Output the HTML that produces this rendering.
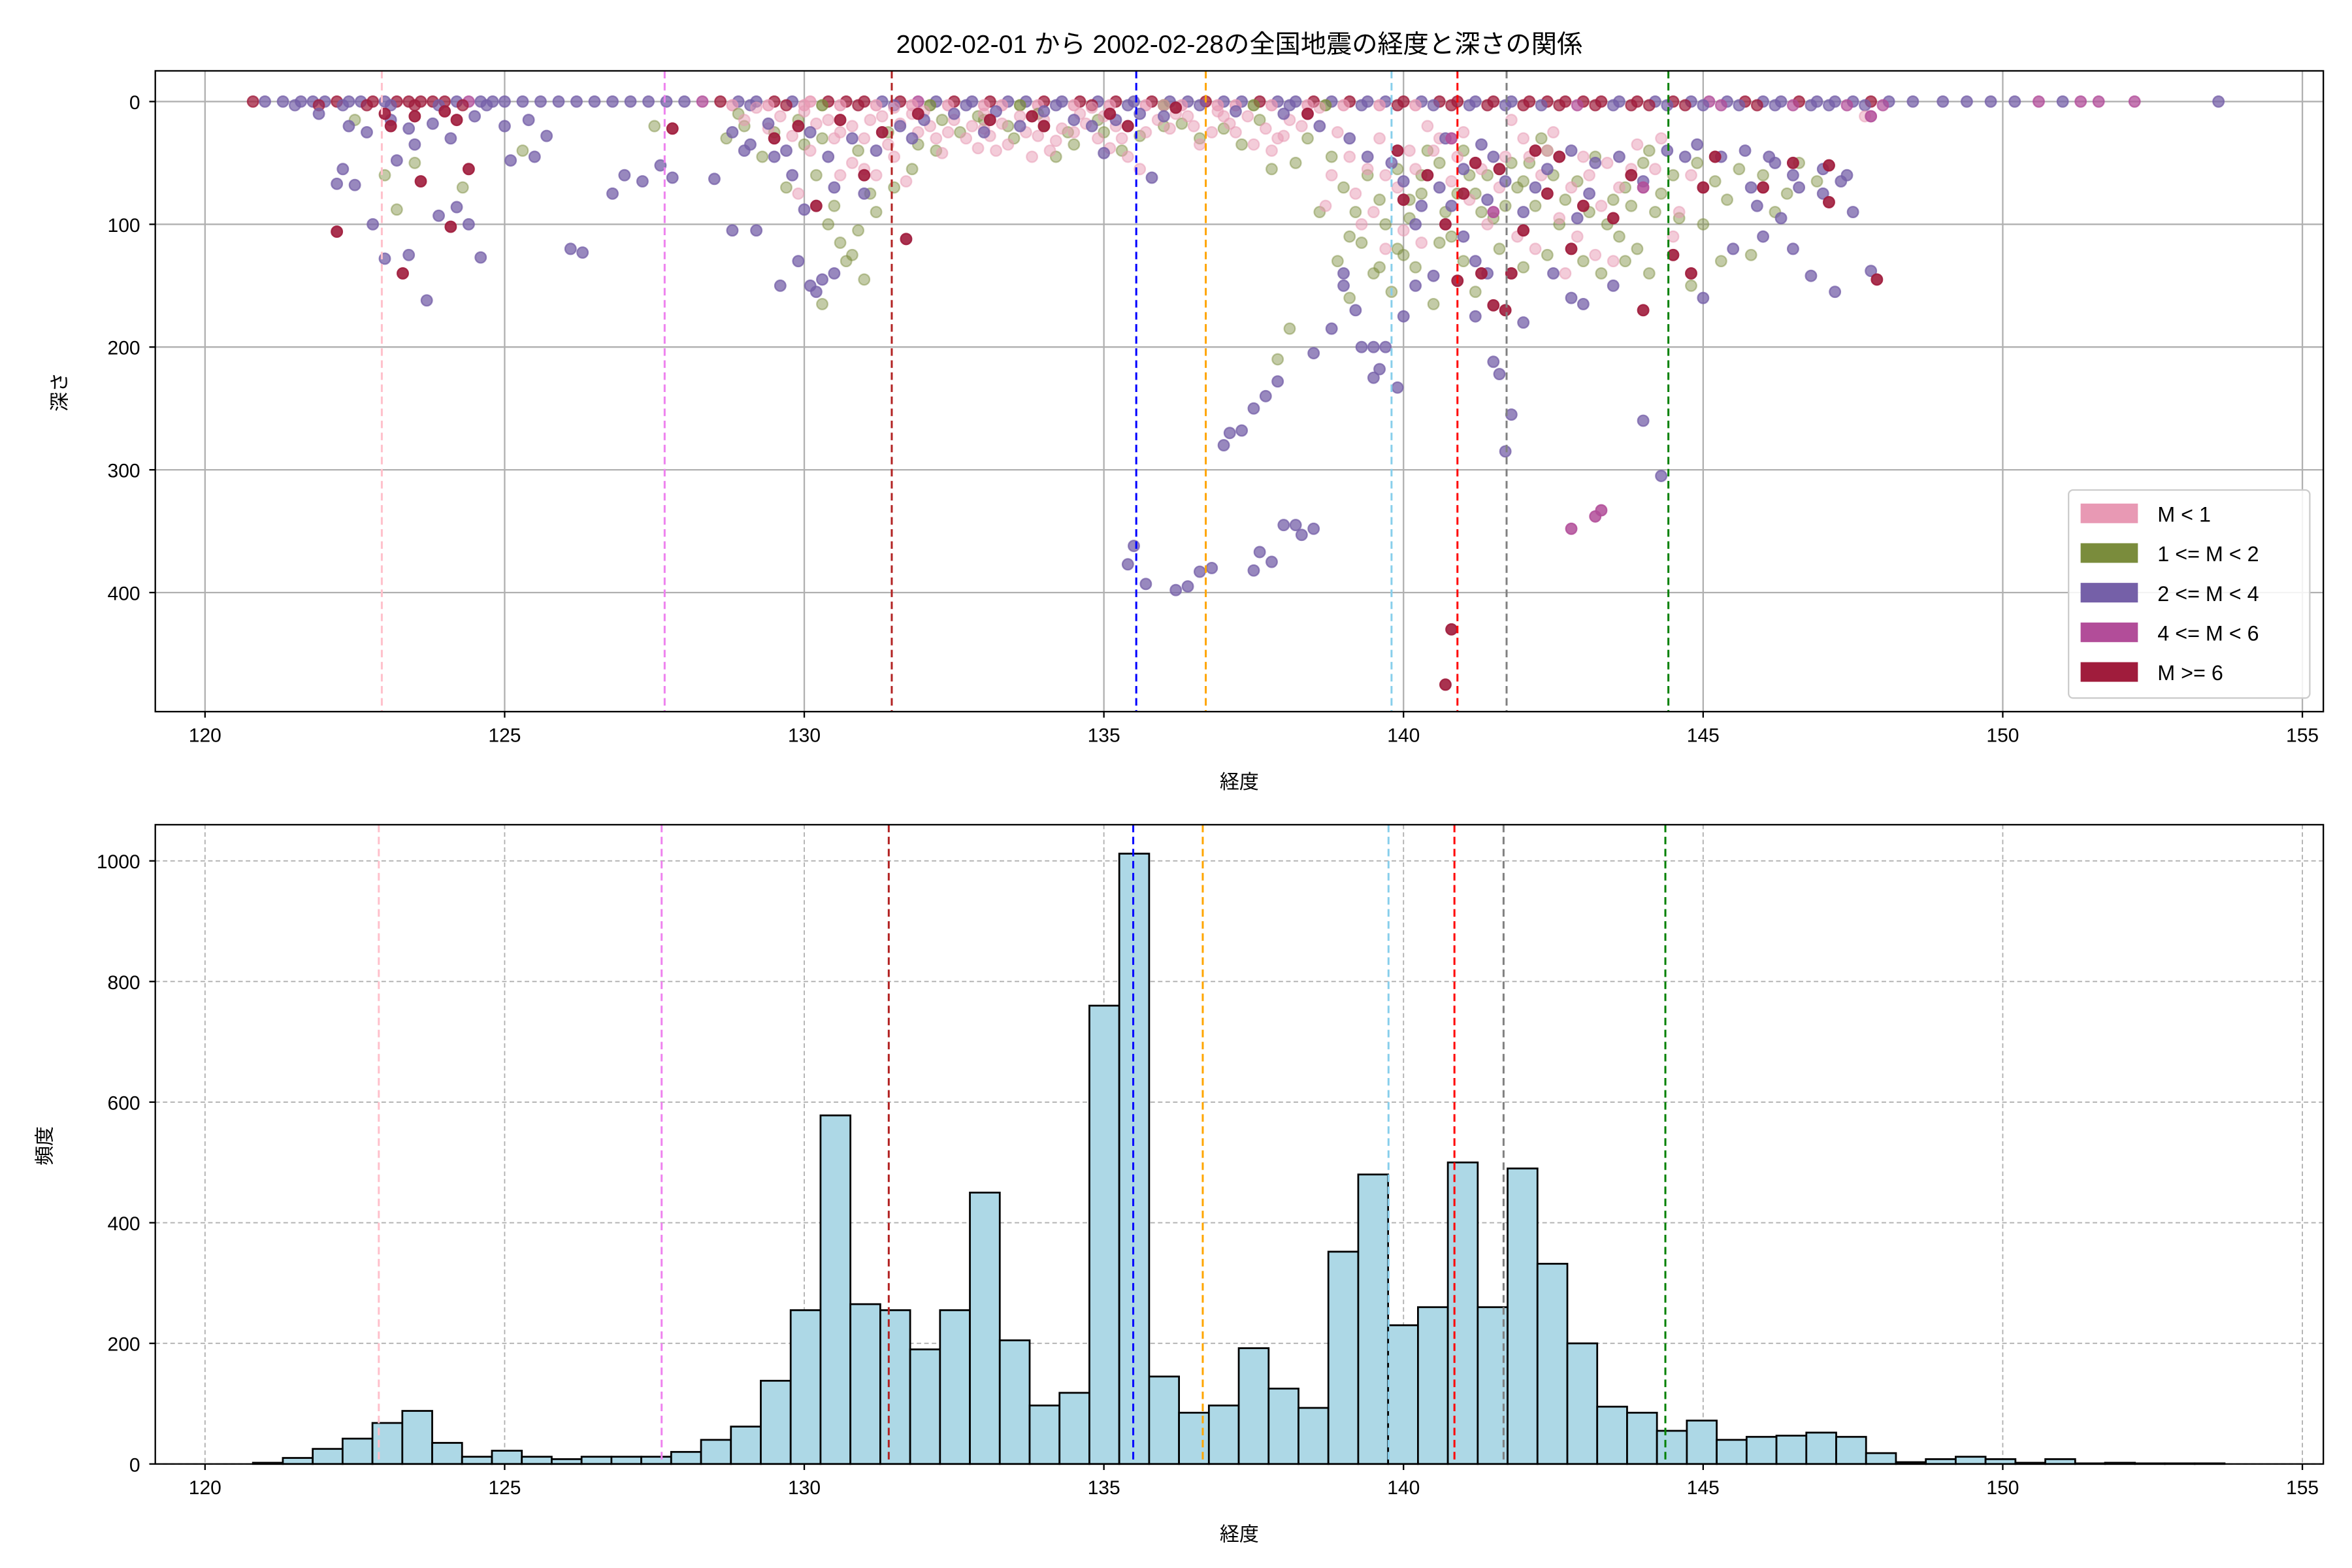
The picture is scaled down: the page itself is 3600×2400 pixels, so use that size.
<!DOCTYPE html>
<html><head><meta charset="utf-8">
<style>
html,body{margin:0;padding:0;background:#fff;}
svg{display:block;font-family:"Liberation Sans","Noto Sans CJK JP",sans-serif;}
</style></head>
<body>
<svg id="chart" xmlns="http://www.w3.org/2000/svg" width="3600" height="2400" viewBox="0 0 1560 1040">
<rect x="0" y="0" width="1560" height="1040" fill="#fff"/>
<text x="822" y="35" font-size="17" text-anchor="middle" fill="#000">2002-02-01 から 2002-02-28の全国地震の経度と深さの関係</text>
<g id="topPanel"></g>
<g id="bottomPanel"></g>
</svg>
<script>
// ---------- data ----------
const xTicks = [120,125,130,135,140,145,150,155];
const depthTicks = [0,100,200,300,400];
const freqTicks = [0,200,400,600,800,1000];
const refLines = [122.95,127.67,131.46,135.54,136.70,139.80,140.90,141.72,144.42];
const refColors = ["pink","violet","#b22222","blue","orange","skyblue","red","gray","green"];
const binStart = 120.8;
const binWidth = 0.4985;
const counts = [2,10,25,42,68,88,35,12,22,12,8,12,12,12,20,40,62,138,255,578,265,255,190,255,450,205,97,118,760,1012,145,85,97,192,125,93,352,480,230,260,500,260,490,332,200,95,85,55,72,40,45,47,52,45,18,3,8,12,8,2,8,1,2,1,1,1];
const classLabels = ["M < 1","1 <= M < 2","2 <= M < 4","4 <= M < 6","M >= 6"];
const classColors = ["#e899b4","#7a8c3c","#7560a8","#b24d99","#a01c3c"];
const pinkPts = [[129.2,5],[129.6,12],[130.0,8],[130.4,15],[130.8,20],[131.0,30],[131.3,12],[131.6,18],[131.9,25],[132.2,30],[132.5,15],[132.8,20],[133.1,28],[133.4,35],[133.7,25],[134.0,15],[134.3,22],[134.6,10],[134.9,30],[135.2,20],[135.4,45],[135.6,55],[135.9,15],[136.2,10],[136.5,20],[136.9,8],[137.2,25],[137.5,35],[137.8,40],[138.1,15],[138.4,10],[138.8,60],[139.2,75],[139.5,90],[139.9,70],[140.2,55],[140.5,40],[140.8,65],[141.1,80],[141.4,100],[141.7,45],[142.0,30],[142.3,60],[142.6,95],[142.9,110],[143.3,85],[143.6,70],[143.9,35],[144.2,55],[144.5,110],[133.0,10],[132.0,8],[131.5,5],[130.5,30],[134.8,5],[136.0,3],[137.0,12],[138.6,5],[139.6,30],[140.4,20],[141.0,25],[141.8,15],[142.5,25],[143.0,45],[130.8,50],[131.2,60],[131.7,65],[129.9,75],[138.7,85],[142.2,120],[143.2,125],[144.6,90],[147.7,12],[139.3,100],[140.0,105],
[129.0,15],[129.4,22],[129.8,28],[130.2,18],[130.6,25],[131.1,15],[131.4,35],[131.8,10],[132.1,20],[132.4,25],[132.7,30],[133.0,22],[133.3,18],[133.6,12],[133.9,28],[134.2,32],[134.5,25],[134.7,18],[135.0,12],[135.3,30],[135.7,25],[136.1,22],[136.4,12],[136.8,25],[137.1,18],[137.4,12],[137.7,22],[138.0,28],[138.3,20],[138.9,25],[139.1,45],[139.4,55],[139.7,60],[140.1,40],[140.6,30],[140.9,45],[141.3,55],[141.6,70],[142.1,45],[142.4,40],[142.8,70],[143.1,60],[143.4,50],[143.8,55],[144.3,30],[144.8,60],[133.2,40],[132.9,38],[134.1,40],[136.6,35],[137.9,30],[135.1,38],[130.1,40],[131.5,45],[132.3,42],[133.8,45],[131.0,55],[130.6,60],[142.7,140],[143.5,130],[141.9,110],[139.7,120],[140.3,115]];
const olivePts = [[122.5,15],[123.0,60],[123.2,88],[123.5,50],[124.3,70],[125.3,40],[127.5,20],[128.7,30],[129.0,20],[129.3,45],[129.7,70],[130.0,35],[130.2,60],[130.4,100],[130.6,115],[130.8,125],[131.0,145],[130.3,165],[130.7,130],[131.2,90],[131.5,70],[131.8,55],[132.2,40],[132.6,25],[133.0,15],[133.5,30],[134.0,20],[134.5,35],[135.0,25],[135.3,40],[136.0,20],[136.6,30],[137.3,35],[137.8,55],[138.2,50],[138.6,90],[138.9,130],[139.1,160],[139.3,115],[139.5,140],[139.7,100],[139.9,120],[140.1,80],[140.3,60],[140.6,50],[140.9,75],[141.1,60],[141.3,90],[141.6,120],[141.9,70],[142.1,50],[142.4,40],[142.7,80],[143.0,130],[143.3,140],[143.6,110],[143.9,120],[144.2,90],[144.5,60],[144.8,150],[145.0,100],[145.4,80],[145.8,125],[146.2,90],[146.6,50],[138.1,185],[137.9,210],[139.8,155],[140.2,135],[141.2,155],[142.0,135],[143.5,80],[144.0,50],[140.5,165],[134.2,45],
[128.9,10],[129.5,25],[129.9,15],[130.3,30],[130.9,40],[131.4,25],[131.9,35],[132.3,15],[132.9,12],[133.4,20],[133.9,10],[134.4,25],[134.9,15],[135.6,28],[136.3,18],[137.0,22],[137.6,15],[138.4,30],[138.8,45],[139.0,70],[139.2,90],[139.4,60],[139.6,80],[139.9,55],[140.1,95],[140.3,75],[140.4,40],[140.7,90],[140.8,110],[141.0,40],[141.2,75],[141.4,60],[141.5,95],[141.7,85],[141.8,50],[142.0,65],[142.2,85],[142.3,30],[142.5,60],[142.6,100],[142.9,65],[143.1,90],[143.2,45],[143.4,100],[143.7,70],[143.8,85],[144.1,40],[144.3,75],[144.6,95],[144.9,50],[145.2,65],[145.6,55],[146.0,60],[146.4,75],[146.9,65],[139.1,110],[139.6,135],[140.0,125],[140.6,115],[141.0,130],[142.4,125],[143.7,130],[144.1,140],[145.3,130],[130.5,85],[131.1,75],[130.9,105]];
const purplePts = [[122.3,55],[122.2,67],[122.5,68],[122.8,100],[123.0,128],[123.4,125],[123.7,162],[123.9,93],[124.2,86],[124.4,100],[124.6,127],[123.2,48],[123.5,35],[125.1,48],[125.5,45],[126.1,120],[126.3,123],[126.8,75],[127.0,60],[127.3,65],[127.6,52],[127.8,62],[128.5,63],[128.8,105],[129.2,105],[129.6,150],[129.9,130],[130.1,150],[130.2,155],[130.3,145],[130.5,140],[130.0,88],[129.8,60],[129.5,45],[130.5,70],[131.0,75],[133.6,20],[135.0,42],[135.8,62],[135.5,362],[135.4,377],[135.7,393],[136.2,398],[136.4,395],[136.6,383],[136.8,380],[137.0,280],[137.1,270],[137.3,268],[137.5,250],[137.7,240],[137.9,228],[137.5,382],[137.6,367],[137.8,375],[138.0,345],[138.2,345],[138.3,353],[138.5,348],[138.5,205],[138.8,185],[139.0,150],[139.0,140],[139.2,170],[139.3,200],[139.5,200],[139.7,200],[139.6,218],[139.9,233],[139.5,225],[140.0,175],[140.2,150],[140.5,142],[141.0,110],[141.2,130],[141.4,140],[141.5,212],[141.6,222],[141.7,285],[141.8,255],[141.2,175],[142.0,180],[142.5,140],[142.8,160],[143.0,165],[143.5,150],[144.0,260],[144.3,305],[145.0,160],[145.5,120],[146.0,110],[146.5,120],[146.8,142],[147.2,155],[147.5,90],[146.5,60],[147.0,55],[147.8,138],[129.0,40],[131.8,30],[133.0,25],[134.5,15],[139.8,50],[140.7,30],[141.5,45],[142.2,70],[143.2,50],[144.7,45],[145.8,70],[146.2,50],[147.3,65],
[121.9,10],[122.4,20],[122.7,25],[123.1,15],[123.4,22],[123.8,18],[124.1,30],[124.5,12],[125.0,20],[125.4,15],[125.7,28],[128.8,25],[129.1,35],[129.4,18],[129.7,40],[130.1,25],[130.4,45],[130.8,30],[131.2,40],[131.6,20],[132.0,15],[132.5,10],[133.2,8],[134.0,8],[134.8,20],[135.2,15],[135.6,10],[136.0,12],[137.2,8],[138.0,10],[138.6,20],[139.1,30],[139.4,45],[140.0,65],[140.3,85],[140.6,70],[141.0,55],[141.3,35],[141.7,65],[142.0,90],[142.4,55],[142.8,40],[143.1,75],[143.6,45],[144.0,65],[144.4,40],[144.9,35],[145.3,45],[145.7,40],[146.1,45],[146.6,70],[147.0,75],[147.4,60],[140.2,100],[140.8,85],[141.4,80],[142.9,95],[146.3,95],[145.9,85]];
const magentaPts = [[142.8,348],[143.2,338],[143.3,333],[147.8,12],[141.5,90],[140.8,30],[144.0,70]];
const redPts = [[122.2,106],[123.3,140],[123.6,65],[124.1,102],[124.4,55],[123.1,20],[124.0,8],[127.8,22],[129.5,30],[130.2,85],[131.0,60],[131.7,112],[133.8,12],[135.4,20],[138.4,10],[140.0,80],[140.7,100],[140.9,146],[140.8,430],[140.7,475],[141.3,140],[141.5,166],[141.7,170],[141.8,140],[142.0,105],[142.4,75],[142.8,120],[143.5,95],[144.0,170],[144.5,125],[144.8,140],[145.0,70],[146.5,50],[147.1,52],[147.1,82],[147.9,145],[141.2,50],[142.6,45],
[123.0,10],[123.5,12],[124.2,15],[129.9,20],[130.6,15],[131.3,25],[131.9,10],[133.1,15],[134.0,20],[135.1,10],[136.2,5],[139.9,40],[140.4,60],[141.0,75],[141.6,55],[142.2,40],[143.0,85],[143.8,60],[145.2,45],[146.0,70]];
const surfaceLons = [120.8,121.0,121.3,121.6,121.8,122.0,122.2,122.4,122.6,122.8,123.0,123.2,123.4,123.6,123.8,124.0,124.2,124.4,124.6,124.8,125.0,125.3,125.6,125.9,126.2,126.5,126.8,127.1,127.4,127.7,128.0,128.3,128.6,128.9,129.2,129.5,129.8,130.1,130.4,130.7,131.0,131.3,131.6,131.9,132.2,132.5,132.8,133.1,133.4,133.7,134.0,134.3,134.6,134.9,135.2,135.5,135.8,136.1,136.4,136.7,137.0,137.3,137.6,137.9,138.2,138.5,138.8,139.1,139.4,139.7,140.0,140.3,140.6,140.9,141.2,141.5,141.8,142.1,142.4,142.7,143.0,143.3,143.6,143.9,144.2,144.5,144.8,145.1,145.4,145.7,146.0,146.3,146.6,146.9,147.2,147.5,147.8,148.1,148.5,149.0,149.4,149.8,150.2,150.6,151.0,151.3,151.6,152.2,153.6];
const surfaceClass = [4,2,2,2,2,2,4,2,2,4,2,4,4,4,4,4,2,3,2,2,2,2,2,2,2,2,2,2,2,2,2,3,4,2,2,4,2,0,4,4,4,2,4,3,2,4,2,4,2,2,4,2,4,2,4,2,4,2,2,4,2,2,4,2,2,4,2,4,2,2,4,2,4,4,2,4,2,4,4,4,4,4,2,4,2,4,2,3,2,4,2,2,4,2,2,2,4,2,2,2,2,2,2,3,2,3,3,3,2];
const surfaceLons2 = [121.5,121.9,122.3,122.7,123.1,123.5,123.9,124.3,124.7,128.8,129.1,129.4,129.7,130.0,130.3,130.6,130.9,131.2,131.5,131.8,132.1,132.4,132.7,133.0,133.3,133.6,133.9,134.2,134.5,134.8,135.1,135.4,135.7,136.0,136.3,136.6,136.9,137.2,137.5,137.8,138.1,138.4,138.7,139.0,139.3,139.6,139.9,140.2,140.5,140.8,141.1,141.4,141.7,142.0,142.3,142.6,142.9,143.2,143.5,143.8,144.1,144.4,144.7,145.0,145.3,145.6,145.9,146.2,146.5,146.8,147.1,147.4,147.7,148.0];
const surfaceClass2 = [2,4,2,4,2,4,2,4,2,0,2,0,4,0,1,0,4,0,2,0,1,0,2,0,0,1,0,2,0,4,0,2,0,1,0,2,0,0,1,0,2,0,1,0,2,0,4,0,2,4,2,4,2,4,2,4,3,4,2,4,4,2,4,2,3,2,4,2,3,2,2,3,2,3];
// ---------- helpers ----------
const NS = "http://www.w3.org/2000/svg";
function mk(tag, attrs, parent){const e=document.createElementNS(NS,tag);for(const k in attrs)e.setAttribute(k,attrs[k]);parent.appendChild(e);return e;}
const AL=103,AR=1541;
const xMin=119.17,xMax=155.35;
function xs(v){return AL+(v-xMin)/(xMax-xMin)*(AR-AL);}
const T1=47,B1=472; const dMin=-25,dMax=497;
function ys1(d){return T1+(d-dMin)/(dMax-dMin)*(B1-T1);}
const T2=547,B2=971; const fMax=1060;
function ys2(f){return B2-f/fMax*(B2-T2);}
// ---------- top panel ----------
const topG=document.getElementById('topPanel');


xTicks.forEach(t=>{const l=mk('line',{x1:xs(t),x2:xs(t),y1:T1,y2:B1,stroke:'#b0b0b0','stroke-width':1},topG);
});
depthTicks.forEach(t=>{const l=mk('line',{x1:AL,x2:AR,y1:ys1(t),y2:ys1(t),stroke:'#b0b0b0','stroke-width':1},topG);
});
function dot(lon,dep,cls,alpha){const c=mk('circle',{cx:xs(lon),cy:ys1(dep),r:3.6,fill:classColors[cls],'fill-opacity':alpha,stroke:classColors[cls],'stroke-opacity':alpha,'stroke-width':1},topG);
}
surfaceLons.forEach((lon,i)=>dot(lon,0,surfaceClass[i],0.75));
surfaceLons2.forEach((lon,i)=>dot(lon,3,surfaceClass2[i],0.7));
olivePts.forEach(p=>dot(p[0],p[1],1,0.45));
pinkPts.forEach(p=>dot(p[0],p[1],0,0.5));
purplePts.forEach(p=>dot(p[0],p[1],2,0.75));
magentaPts.forEach(p=>dot(p[0],p[1],3,0.85));
redPts.forEach(p=>dot(p[0],p[1],4,0.9));
refLines.forEach((v,i)=>{const l=mk('line',{x1:xs(v),x2:xs(v),y1:T1,y2:B1,stroke:refColors[i],'stroke-width':1.3,'stroke-dasharray':'5,3'},topG);
});
mk('rect',{x:AL,y:T1,width:AR-AL,height:B1-T1,fill:'none',stroke:'#000','stroke-width':1},topG);
xTicks.forEach(t=>{mk('line',{x1:xs(t),x2:xs(t),y1:B1,y2:B1+4,stroke:'#000'},topG);
const tx=mk('text',{x:xs(t),y:B1+20,'font-size':13,'text-anchor':'middle'},topG);tx.textContent=t;
});
depthTicks.forEach(t=>{mk('line',{x1:AL-4,x2:AL,y1:ys1(t),y2:ys1(t),stroke:'#000'},topG);
const tx=mk('text',{x:AL-10,y:ys1(t)+5,'font-size':13,'text-anchor':'end'},topG);tx.textContent=t;
});
let t1=mk('text',{x:822,y:523,'font-size':13,'text-anchor':'middle'},topG);t1.textContent='経度';

let t2=mk('text',{x:44,y:260,'font-size':13,'text-anchor':'middle',transform:'rotate(-90 44 260)'},topG);t2.textContent='深さ';

// legend
const lg=mk('g',{},topG);

mk('rect',{x:1372,y:325,width:160,height:138,rx:3,fill:'#fff','fill-opacity':0.85,stroke:'#ccc'},lg);
classLabels.forEach((lab,i)=>{const y=334+i*26.3;
const r=mk('rect',{x:1380,y:y,width:38,height:13,fill:classColors[i]},lg);

const tx=mk('text',{x:1431,y:y+12,'font-size':14},lg);tx.textContent=lab;
});
// ---------- bottom panel ----------
const botG=document.getElementById('bottomPanel');


xTicks.forEach(t=>{const l=mk('line',{x1:xs(t),x2:xs(t),y1:T2,y2:B2,stroke:'#b0b0b0','stroke-width':0.8,'stroke-dasharray':'3,2'},botG);
});
freqTicks.forEach(t=>{const l=mk('line',{x1:AL,x2:AR,y1:ys2(t),y2:ys2(t),stroke:'#b0b0b0','stroke-width':0.8,'stroke-dasharray':'3,2'},botG);
});
counts.forEach((c,i)=>{const x0=xs(binStart+i*binWidth),x1=xs(binStart+(i+1)*binWidth);
const r=mk('rect',{x:x0,y:ys2(c),width:x1-x0,height:B2-ys2(c),fill:'#add8e6',stroke:'#000','stroke-width':1.2},botG);
});
refLines.forEach((v,i)=>{const l=mk('line',{x1:xs(v)-2,x2:xs(v)-2,y1:T2,y2:B2,stroke:refColors[i],'stroke-width':1.3,'stroke-dasharray':'5,3'},botG);
});
mk('rect',{x:AL,y:T2,width:AR-AL,height:B2-T2,fill:'none',stroke:'#000','stroke-width':1},botG);
xTicks.forEach(t=>{mk('line',{x1:xs(t),x2:xs(t),y1:B2,y2:B2+4,stroke:'#000'},botG);
const tx=mk('text',{x:xs(t),y:B2+20,'font-size':13,'text-anchor':'middle'},botG);tx.textContent=t;
});
freqTicks.forEach(t=>{mk('line',{x1:AL-4,x2:AL,y1:ys2(t),y2:ys2(t),stroke:'#000'},botG);
const tx=mk('text',{x:AL-10,y:ys2(t)+5,'font-size':13,'text-anchor':'end'},botG);tx.textContent=t;
});
let t3=mk('text',{x:822,y:1022,'font-size':13,'text-anchor':'middle'},botG);t3.textContent='経度';

let t4=mk('text',{x:34,y:760,'font-size':13,'text-anchor':'middle',transform:'rotate(-90 34 760)'},botG);t4.textContent='頻度';

</script>
</body></html>
